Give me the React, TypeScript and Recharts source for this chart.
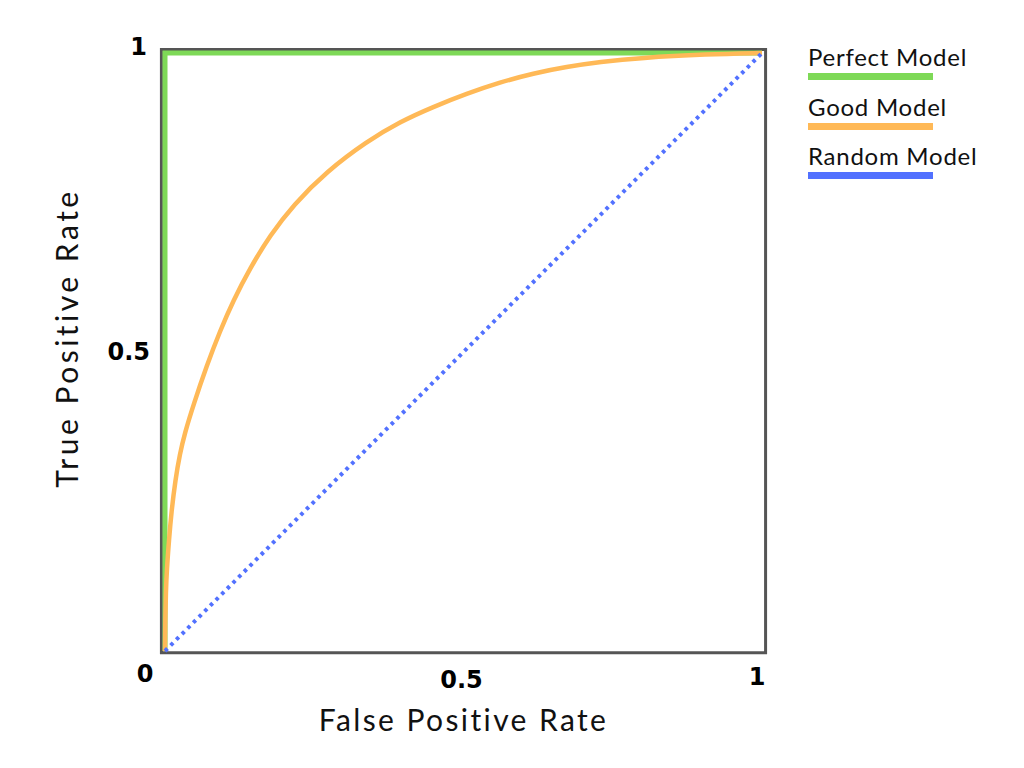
import { LineChart, Line, XAxis, YAxis, Legend, ReferenceArea } from 'recharts';

// ROC curves, x = false positive rate, y = true positive rate
const perfectFpr = [0, 0, 1];
const perfectTpr = [0, 1, 1];

const goodFpr = [0, 0.0004, 0.0015, 0.003, 0.0067, 0.0106, 0.0173, 0.025, 0.033, 0.0474, 0.0698, 0.0921, 0.1144, 0.1424, 0.1759, 0.2149, 0.2709, 0.3379, 0.3936, 0.4494, 0.5054, 0.5611, 0.6169, 0.6729, 0.7286, 0.7956, 0.908, 1];
const goodTpr = [0, 0.05, 0.1, 0.135, 0.186, 0.231, 0.286, 0.33, 0.364, 0.411, 0.477, 0.535, 0.586, 0.64, 0.695, 0.746, 0.802, 0.852, 0.885, 0.91, 0.932, 0.951, 0.966, 0.977, 0.985, 0.992, 0.998, 1];

const randomFpr = [0, 1];
const randomTpr = [0, 1];

const seriesNames = ['Perfect Model', 'Good Model', 'Random Model'];
const xTicks = [0, 0.5, 1];
const yTicks = [0.5, 1];

const toPoints = (xs: number[], ys: number[]) => xs.map((x, i) => ({ x, y: ys[i] }));

const perfectData = toPoints(perfectFpr, perfectTpr);
const goodData = toPoints(goodFpr, goodTpr);
const randomData = toPoints(randomFpr, randomTpr);

const GREEN = '#7ed957';
const ORANGE = '#ffb957';
const BLUE = '#5271ff';
const FRAME = '#555555';

const TEXT_FONT = 'Lato, "Open Sans", sans-serif';
const TICK_FONT = '"DejaVu Sans", sans-serif';

// label nudges so the corner labels sit like in the original figure
const xTickShift: Record<number, { dx: number; dy: number }> = {
  0: { dx: -20, dy: 15 },
  0.5: { dx: -2, dy: 21 },
  1: { dx: -5, dy: 18 },
};

const XTick = ({ x, y, payload }: any) => {
  const s = xTickShift[payload.value] || { dx: 0, dy: 0 };
  return (
    <text
      x={x + s.dx}
      y={y + s.dy}
      textAnchor="middle"
      dominantBaseline="central"
      fontFamily={TICK_FONT}
      fontWeight="bold"
      fontSize={24}
      fill="#000"
    >
      {payload.value}
    </text>
  );
};

const YTick = ({ x, y, payload }: any) => {
  const top = payload.value === 1;
  return (
    <text
      x={x + (top ? -10 : -7)}
      y={y + (top ? -6.5 : 0)}
      textAnchor="end"
      dominantBaseline="central"
      fontFamily={TICK_FONT}
      fontWeight="bold"
      fontSize={24}
      fill="#000"
    >
      {payload.value}
    </text>
  );
};

const YTitle = ({ viewBox }: any) => {
  const cx = viewBox.x - 39;
  const cy = 338;
  return (
    <text
      x={cx}
      y={cy}
      transform={`rotate(-90, ${cx}, ${cy})`}
      textAnchor="middle"
      dominantBaseline="central"
      fontFamily={TEXT_FONT}
      fontSize={30}
      letterSpacing={3.5}
      fill="#111"
    >
      True Positive Rate
    </text>
  );
};

const LegendBox = ({ payload }: any) => {
  const items = [...(payload || [])].sort(
    (a: any, b: any) => seriesNames.indexOf(a.value) - seriesNames.indexOf(b.value)
  );
  return (
    <div style={{ fontFamily: TEXT_FONT }}>
      {items.map((item: any) => (
        <div key={item.value} style={{ height: 49.5 }}>
          <div style={{ fontSize: 24, lineHeight: '24px', letterSpacing: 0.75, color: '#111', whiteSpace: 'nowrap' }}>
            {item.value}
          </div>
          <div style={{ marginTop: 4, width: 125, height: 7, background: item.color }} />
        </div>
      ))}
    </div>
  );
};

export default function App() {
  return (
    <div style={{ position: 'absolute', left: 0, top: 0, width: 1024, height: 768, background: '#fff' }}>
      <LineChart width={1024} height={768} margin={{ top: 53, right: 262, bottom: 57, left: 105 }}>
        <XAxis
          type="number"
          dataKey="x"
          domain={[0, 1]}
          ticks={xTicks}
          axisLine={false}
          tickLine={false}
          height={60}
          tick={<XTick />}
          label={{
            value: 'False Positive Rate',
            position: 'bottom',
            offset: -1,
            style: { fontFamily: TEXT_FONT, fontSize: 30, letterSpacing: 2.4, fill: '#111' },
          }}
        />
        <YAxis
          type="number"
          dataKey="y"
          domain={[0, 1]}
          ticks={yTicks}
          axisLine={false}
          tickLine={false}
          width={60}
          tick={<YTick />}
          label={{ content: <YTitle /> }}
        />
        <ReferenceArea
          x1={-0.006}
          x2={1.006}
          y1={-0.003}
          y2={1.006}
          ifOverflow="visible"
          fill="none"
          fillOpacity={0}
          stroke={FRAME}
          strokeWidth={3}
        />
        <Line
          data={perfectData}
          dataKey="y"
          name={seriesNames[0]}
          type="linear"
          stroke={GREEN}
          strokeWidth={5}
          dot={false}
          isAnimationActive={false}
        />
        <Line
          data={goodData}
          dataKey="y"
          name={seriesNames[1]}
          type="basis"
          stroke={ORANGE}
          strokeWidth={4.5}
          dot={false}
          isAnimationActive={false}
        />
        <Line
          data={randomData}
          dataKey="y"
          name={seriesNames[2]}
          type="linear"
          stroke={BLUE}
          strokeWidth={4}
          strokeDasharray="3.5 4.5"
          dot={false}
          isAnimationActive={false}
        />
        <Legend
          layout="vertical"
          align="center"
          verticalAlign="middle"
          content={<LegendBox />}
          wrapperStyle={{ left: 808, top: 45, width: 200 }}
        />
      </LineChart>
    </div>
  );
}
